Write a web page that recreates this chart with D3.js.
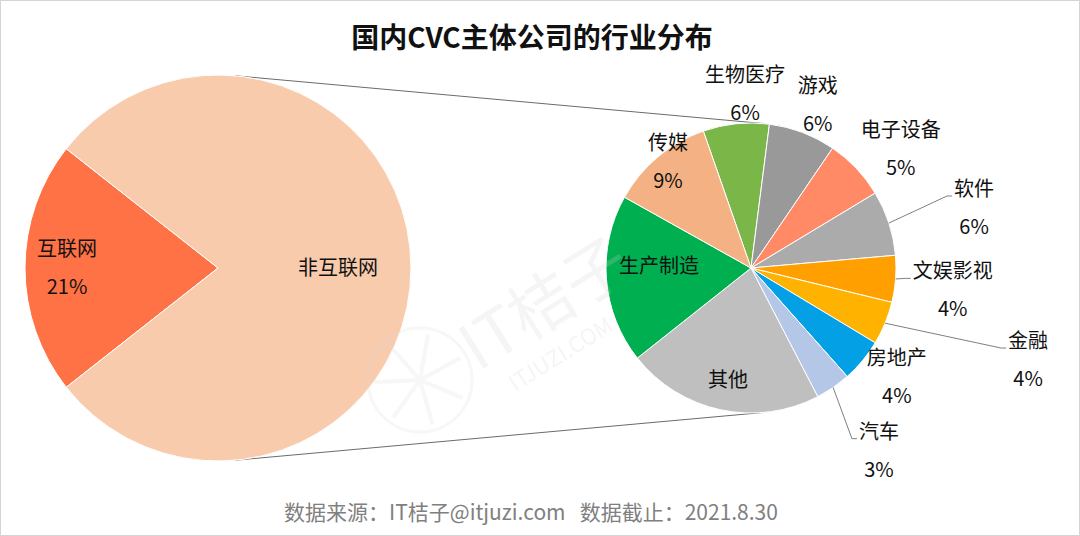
<!DOCTYPE html>
<html>
<head>
<meta charset="utf-8">
<script src="https://cdn.jsdelivr.net/npm/d3@7"></script>
<style>
  html, body { margin: 0; padding: 0; background: #fff; }
  svg { display: block; font-family: "Noto Sans CJK SC", "Noto Sans", sans-serif; }
</style>
</head>
<body>
<svg id="chart" width="1080" height="536"></svg>
<script>
// Data (percent of all CVC companies)
const mainNames = ["互联网", "非互联网"];
const mainValues = [21.2, 78.8];
const mainPctLabels = ["21%", ""];
const mainColors = ["#FF7245", "#F8CBAD"];

const subNames = ["生物医疗", "游戏", "电子设备", "软件", "文娱影视", "金融", "房地产", "汽车", "其他", "生产制造", "传媒"];
const subValues = [5.8, 5.9, 5.4, 5.7, 4.1, 3.8, 3.8, 3.1, 17.3, 14.8, 9.1];
const subPctLabels = ["6%", "6%", "5%", "6%", "4%", "4%", "4%", "3%", "", "", "9%"];
const subColors = ["#7AB648", "#999999", "#FF8A65", "#ABABAB", "#FF9F00", "#FFB200", "#03A0E6", "#B4C7E7", "#BFBFBF", "#00B050", "#F4B183"];

// Layout
const W = 1080, H = 536;
const mainC = { x: 218, y: 268, r: 193 };
const subC = { x: 751, y: 268, r: 145 };
const rad = d => d * Math.PI / 180;

// label placement: radius from centre, angle shift (deg) from slice mid, leader line
const subLabelLayout = [
  { r: 174, da: 4 }, { r: 176, da: 1.5 }, { r: 191, da: 5 }, { r: 231, da: 3, leader: true },
  { r: 203, da: 2, leader: true }, { r: 292, da: -4, leader: true }, { r: 182, da: -3 },
  { r: 223, da: -0.5, leader: true }, { r: 114, da: -0.5 }, { r: 92, da: 6 }, { r: 135, da: 2 }
];
const mainLabelLayout = [{ r: 151, da: 0 }, { r: 120, da: 0 }];

const svg = d3.select("#chart");
svg.append("rect").attr("x", 0.5).attr("y", 0.5).attr("width", W - 1).attr("height", H - 1)
  .attr("fill", "#fff").attr("stroke", "#d4d4d4");

// Title
svg.append("text").attr("x", 532).attr("y", 48).attr("text-anchor", "middle")
  .attr("font-size", 28).attr("font-weight", "bold").attr("fill", "#111")
  .text("国内CVC主体公司的行业分布");

// Connector lines (outer tangents between the two pies)
const dx = subC.x - mainC.x;
const th = Math.asin((mainC.r - subC.r) / dx);
[-1, 1].forEach(s => {
  const nx = Math.sin(th), ny = s * Math.cos(th);
  svg.append("line")
    .attr("x1", mainC.x + nx * mainC.r).attr("y1", mainC.y + ny * mainC.r)
    .attr("x2", subC.x + nx * subC.r).attr("y2", subC.y + ny * subC.r)
    .attr("stroke", "#6b6b6b").attr("stroke-width", 1);
});

function drawPie(c, names, values, colors, pctLabels, layout, startDeg) {
  const pie = d3.pie().sort(null).value(d => d)
    .startAngle(rad(startDeg)).endAngle(rad(startDeg + 360));
  const arcs = pie(values);
  const arc = d3.arc().innerRadius(0).outerRadius(c.r);
  const g = svg.append("g").attr("transform", `translate(${c.x},${c.y})`);
  g.selectAll("path").data(arcs).enter().append("path")
    .attr("d", arc)
    .attr("fill", (d, i) => colors[i])
    .attr("stroke", "#fff").attr("stroke-width", 1);

  const lg = svg.append("g");
  arcs.forEach((d, i) => {
    const L = layout[i];
    const mid = (d.startAngle + d.endAngle) / 2;
    const a = mid + rad(L.da);
    const lx = c.x + L.r * Math.sin(a);
    const ly = c.y - L.r * Math.cos(a);
    const two = pctLabels[i] !== "";
    const nameY = two ? ly - 19 : ly;
    const t = lg.append("text").attr("x", lx).attr("y", nameY + 7)
      .attr("text-anchor", "middle").attr("font-size", 20).attr("fill", "#111")
      .text(names[i]);
    if (two) {
      lg.append("text").attr("x", lx).attr("y", ly + 19 + 7)
        .attr("text-anchor", "middle").attr("font-size", 20).attr("fill", "#111")
        .text(pctLabels[i]);
    }
    if (L.leader) {
      const w = t.node().getComputedTextLength();
      const sx = c.x + c.r * Math.sin(mid), sy = c.y - c.r * Math.cos(mid);
      const ex = lx - w / 2 - 2, ey = nameY + 7;
      lg.append("polyline")
        .attr("points", `${sx},${sy} ${ex - 5},${ey} ${ex},${ey}`)
        .attr("fill", "none").attr("stroke", "#7f7f7f").attr("stroke-width", 1);
    }
  });
}

// right pie starts at the 生物医疗 / 传媒 boundary
drawPie(mainC, mainNames, mainValues, mainColors, mainPctLabels, mainLabelLayout, 270 - 21.2 * 1.8);
drawPie(subC, subNames, subValues, subColors, subPctLabels, subLabelLayout, -19.2);

// Watermark
const wm = svg.append("g").attr("opacity", 0.22).attr("pointer-events", "none");
wm.append("circle").attr("cx", 420).attr("cy", 380).attr("r", 52)
  .attr("fill", "none").attr("stroke", "#d8d8d8").attr("stroke-width", 3);
d3.range(7).forEach(k => {
  const a = rad(k * 360 / 7 + 10);
  wm.append("line").attr("x1", 420).attr("y1", 380)
    .attr("x2", 420 + 46 * Math.sin(a)).attr("y2", 380 - 46 * Math.cos(a))
    .attr("stroke", "#d8d8d8").attr("stroke-width", 4);
});
wm.append("text").attr("transform", "translate(478,372) rotate(-32)")
  .attr("font-size", 64).attr("fill", "#d0d0d0").attr("font-family", "Noto Sans CJK SC")
  .text("IT桔子");
wm.append("text").attr("transform", "translate(515,392) rotate(-32)")
  .attr("font-size", 22).attr("fill", "#d0d0d0")
  .text("ITJUZI.COM");

// Footer
svg.append("text").attr("x", 531).attr("y", 520).attr("text-anchor", "middle")
  .attr("font-size", 21).attr("fill", "#808080").style("white-space", "pre")
  .text("数据来源：IT桔子@itjuzi.com   数据截止：2021.8.30");
</script>
</body>
</html>
